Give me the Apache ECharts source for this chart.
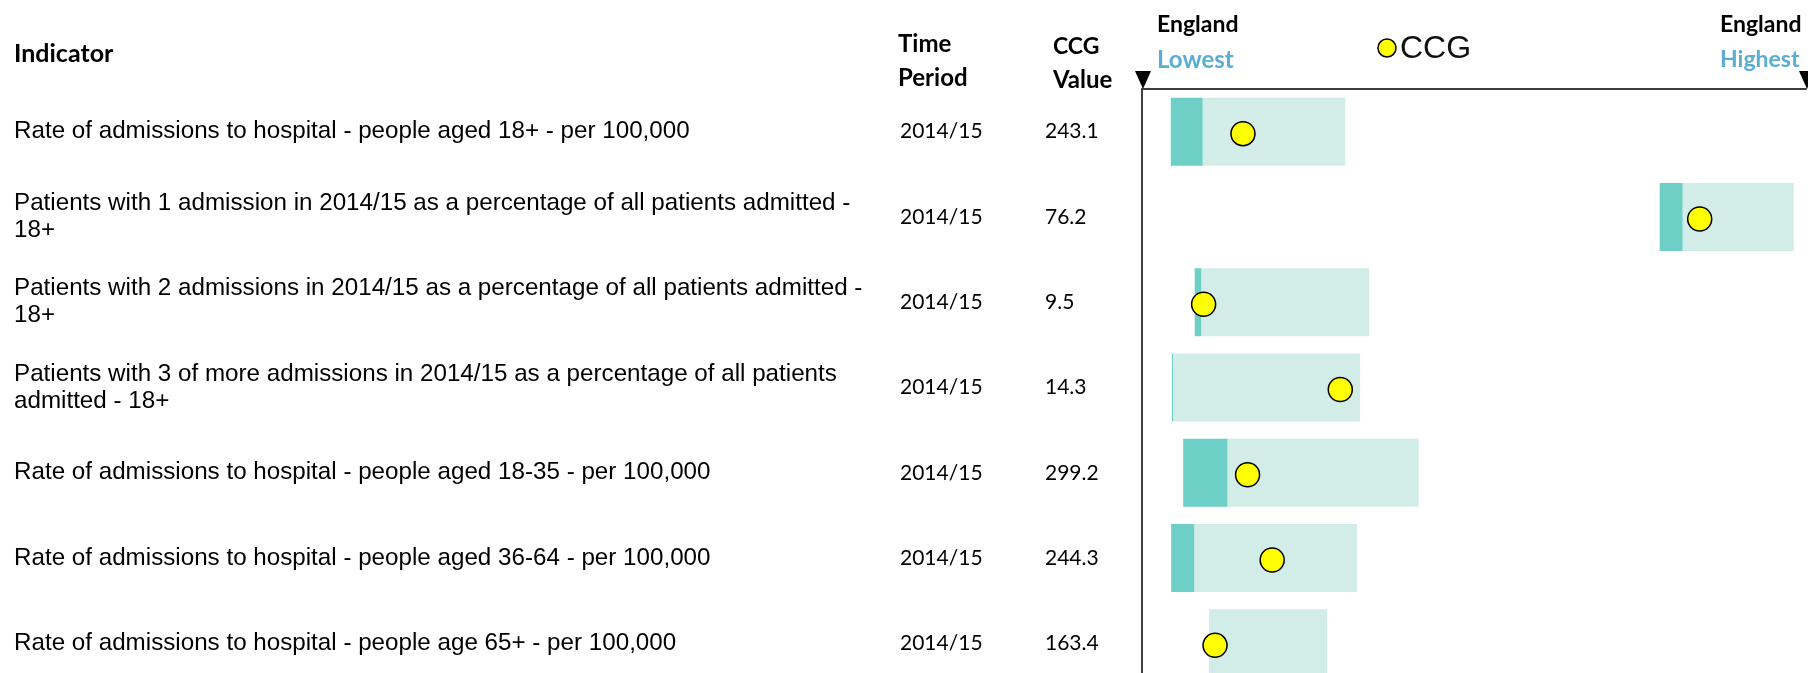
<!DOCTYPE html>
<html>
<head>
<meta charset="utf-8">
<script src="https://cdn.jsdelivr.net/npm/echarts@6/dist/echarts.min.js"></script>
<style>
  html, body { margin: 0; padding: 0; background: #ffffff; }
  #chart { width: 1808px; height: 673px; }
</style>
</head>
<body>
<div id="chart"></div>
<script>
// Indicator rows (top to bottom)
const indicators = [
  'Rate of admissions to hospital - people aged 18+ - per 100,000',
  'Patients with 1 admission in 2014/15 as a percentage of all patients admitted -\n18+',
  'Patients with 2 admissions in 2014/15 as a percentage of all patients admitted -\n18+',
  'Patients with 3 of more admissions in 2014/15 as a percentage of all patients\nadmitted - 18+',
  'Rate of admissions to hospital - people aged 18-35 - per 100,000',
  'Rate of admissions to hospital - people aged 36-64 - per 100,000',
  'Rate of admissions to hospital - people age 65+ - per 100,000'
];
const timePeriods = ['2014/15', '2014/15', '2014/15', '2014/15', '2014/15', '2014/15', '2014/15'];
const ccgValues = [243.1, 76.2, 9.5, 14.3, 299.2, 244.3, 163.4];

// England lowest / highest for each indicator (ends of the spine)
const englandLowest  = [180, 40, 8.6, 10, 200, 160, 120];
const englandHighest = [595, 83.1, 18.3, 24.4, 824, 590, 514.5];

// Shaded band for each indicator: start, end of darker part, end of lighter part
const bandStart = [198, 73.6, 9.37, 10.65, 238.7, 178.9, 160.2];
const bandSplit = [218, 75.1, 9.47, 10.68, 280.5, 194, 160.6];
const bandEnd   = [307, 82.3, 11.92, 14.73, 460, 299.3, 230];

// Place a value on the 0-100 spine between England lowest and highest
function toSpine(v, i) {
  return (v - englandLowest[i]) / (englandHighest[i] - englandLowest[i]) * 100;
}

const startPos = bandStart.map(toSpine);
const splitPos = bandSplit.map(toSpine);
const endPos = bandEnd.map(toSpine);

const chart = echarts.init(document.getElementById('chart'), null, { renderer: 'canvas' });

const headFont = 'Lato';
const labelFont = '"Liberation Sans", Arial, sans-serif';

function catAxis(margin, formatter, font, size, showLine) {
  return {
    type: 'category',
    inverse: true,
    data: indicators,
    position: 'left',
    axisLine: { show: showLine, lineStyle: { color: '#000000', width: 1.5 } },
    axisTick: { show: false },
    splitLine: { show: false },
    axisLabel: {
      show: true,
      align: 'left',
      margin: margin,
      fontFamily: font,
      fontSize: size,
      lineHeight: 27,
      padding: [6, 0, 0, 0],
      color: '#000000',
      formatter: formatter
    }
  };
}

chart.setOption({
  animation: false,
  backgroundColor: '#ffffff',
  // the last row runs past the bottom edge of the page
  grid: {
    left: 1142, right: 2, top: 89, height: 597,
    containLabel: false, outerBoundsMode: 'none'
  },
  xAxis: {
    type: 'value',
    position: 'top',
    min: 0,
    max: 100,
    axisLine: { show: true, onZero: false, lineStyle: { color: '#3c3c3c', width: 2 } },
    axisTick: { show: false },
    axisLabel: { show: false },
    splitLine: { show: false }
  },
  yAxis: [
    catAxis(1128, function (v) { return v; }, labelFont, 24.2, true),
    catAxis(242, function (v, i) { return timePeriods[i]; }, headFont, 21, false),
    catAxis(97, function (v, i) { return ccgValues[i].toFixed(1); }, headFont, 21, false)
  ],
  series: [
    {
      type: 'bar', stack: 'band', yAxisIndex: 0, barWidth: 68, silent: true,
      itemStyle: { color: 'rgba(0,0,0,0)' },
      data: startPos
    },
    {
      type: 'bar', stack: 'band', yAxisIndex: 0, barWidth: 68, silent: true,
      itemStyle: { color: '#6dcfc5' },
      data: splitPos.map(function (v, i) { return v - startPos[i]; })
    },
    {
      type: 'bar', stack: 'band', yAxisIndex: 0, barWidth: 68, silent: true,
      itemStyle: { color: '#d2ece8' },
      data: endPos.map(function (v, i) { return v - splitPos[i]; })
    },
    {
      type: 'scatter', yAxisIndex: 0, symbol: 'circle', symbolSize: 24,
      symbolOffset: [0, 2], z: 5, silent: true,
      itemStyle: { color: '#ffff00', borderColor: '#000000', borderWidth: 1.5, opacity: 1 },
      data: ccgValues.map(function (v, i) { return [toSpine(v, i), i]; })
    }
  ]
});

// Spine end markers and headings
const xLow = chart.convertToPixel({ xAxisIndex: 0 }, 0);
const xHigh = chart.convertToPixel({ xAxisIndex: 0 }, 100);

function triangle(x) {
  return {
    type: 'polygon',
    shape: { points: [[x - 8, 71], [x + 8, 71], [x, 89]] },
    style: { fill: '#000000' },
    silent: true
  };
}

function head(text, x, y, color, font) {
  return {
    type: 'text',
    x: x, y: y,
    style: {
      text: text,
      fill: color || '#000000',
      font: font || 'bold 23px Lato',
      textAlign: 'left',
      textVerticalAlign: 'middle'
    },
    silent: true
  };
}

chart.setOption({
  graphic: [
    triangle(xLow + 1),
    triangle(xHigh + 1),
    head('Indicator', 14, 54, '#000000', 'bold 25px Lato'),
    head('Time', 898, 44, '#000000', 'bold 24px Lato'),
    head('Period', 898, 78, '#000000', 'bold 24px Lato'),
    head('CCG', 1053, 47),
    head('Value', 1053, 80, '#000000', 'bold 24px Lato'),
    head('England', 1157, 25),
    head('Lowest', 1157, 60, '#5baed3', 'bold 24px Lato'),
    head('England', 1720, 25),
    head('Highest', 1720, 60, '#5baed3'),
    {
      type: 'circle',
      shape: { cx: 1387, cy: 48, r: 9 },
      style: { fill: '#ffff00', stroke: '#000000', lineWidth: 1.5 },
      silent: true
    },
    head('CCG', 1400, 49, '#111111', '32px "Liberation Sans", Arial, sans-serif')
  ]
});
</script>
</body>
</html>
